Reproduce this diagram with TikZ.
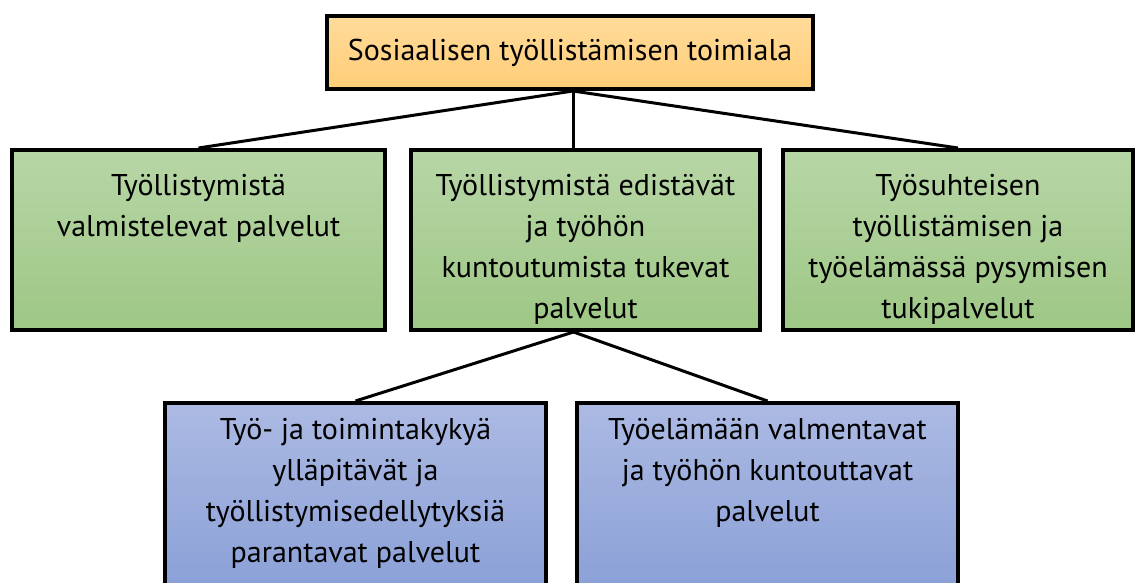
\documentclass[tikz,border=0pt]{standalone}
\usepackage{fontspec}
\setmainfont{PT Sans}

\definecolor{orangetop}{RGB}{255,219,155}
\definecolor{orangebot}{RGB}{255,205,118}
\definecolor{greentop}{RGB}{183,214,166}
\definecolor{greenbot}{RGB}{158,199,133}
\definecolor{bluetop}{RGB}{172,186,227}
\definecolor{bluebot}{RGB}{136,158,214}

% text box: width, height, first baseline, lines
\newcommand{\boxtext}[4]{\parbox[c][#2][t]{#1}{\centering\rule{0pt}{#3}#4}}

\tikzset{
  orgbox/.style={draw=black, line width=4pt, inner sep=0pt},
  headbox/.style={orgbox, top color=orangetop, bottom color=orangebot,
    minimum width=486pt, minimum height=73pt},
  greenbox/.style={orgbox, top color=greentop, bottom color=greenbot},
  bluebox/.style={orgbox, top color=bluetop, bottom color=bluebot},
  link/.style={line width=3pt}
}

\begin{document}
\begin{tikzpicture}[x=1pt,y=-1pt,font=\fontsize{30}{41}\selectfont]

\useasboundingbox (0,0) rectangle (1135,583);
\clip (0,0) rectangle (1135,583);

\node[headbox] (toimiala) at (570,52.5) {Sosiaalisen työllistämisen toimiala};

\node[greenbox] (valmistelevat) at (198.5,240)
  {\boxtext{373pt}{180pt}{45pt}{Työllistymistä\\valmistelevat palvelut}};
\node[greenbox] (edistavat) at (585.5,240)
  {\boxtext{349pt}{180pt}{45pt}{Työllistymistä edistävät\\ja työhön\\kuntoutumista tukevat\\palvelut}};
\node[greenbox] (tukipalvelut) at (958,240)
  {\boxtext{350pt}{180pt}{45pt}{Työsuhteisen\\työllistämisen ja\\työelämässä pysymisen\\tukipalvelut}};

\node[bluebox] (yllapitavat) at (355.5,503)
  {\boxtext{381pt}{200pt}{36pt}{Työ- ja toimintakykyä\\ylläpitävät ja\\työllistymisedellytyksiä\\parantavat palvelut}};
\node[bluebox] (valmentavat) at (767.5,503)
  {\boxtext{381pt}{200pt}{36pt}{Työelämään valmentavat\\ja työhön kuntouttavat\\palvelut}};

% connectors
\draw[link] ([xshift=3pt]toimiala.south) -- (valmistelevat.north);
\draw[link] ([xshift=3pt]toimiala.south) -- ([xshift=3pt]toimiala.south |- edistavat.north);
\draw[link] ([xshift=3pt]toimiala.south) -- (tukipalvelut.north);
\draw[link] ([xshift=-12pt]edistavat.south) -- (yllapitavat.north);
\draw[link] ([xshift=-12pt]edistavat.south) -- (valmentavat.north);

\end{tikzpicture}
\end{document}
